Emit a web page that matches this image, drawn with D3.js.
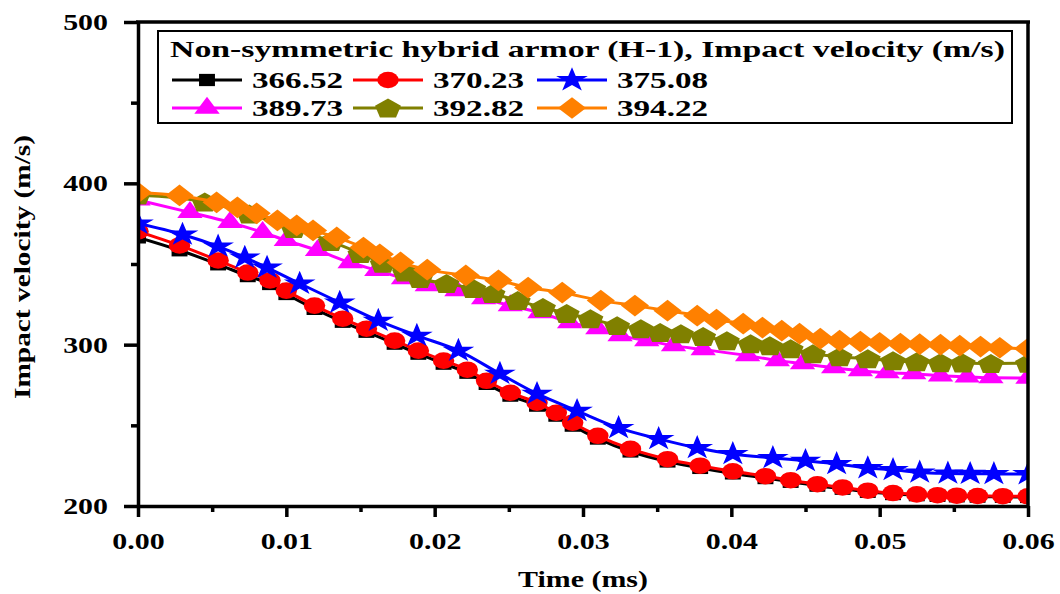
<!DOCTYPE html>
<html>
<head>
<meta charset="utf-8">
<title>Impact velocity vs time</title>
<script src="https://cdn.jsdelivr.net/npm/d3@7"></script>
<style>
  body { margin: 0; background: #fff; }
  text { font-family: "Liberation Serif", "Times New Roman", serif; font-weight: bold; fill: #000; }
  .axis path, .axis line { stroke: #000; stroke-width: 3.5; }
</style>
</head>
<body>
<script>
// data (time in ms, velocity in m/s)
var labels = ['366.52', '370.23', '375.08', '389.73', '392.82', '394.22'];
var legendTitle = 'Non-symmetric hybrid armor (H-1), Impact velocity (m/s)';
var xTicks = [0, 0.01, 0.02, 0.03, 0.04, 0.05, 0.06];
var xMinor = [0.005, 0.015, 0.025, 0.035, 0.045, 0.055];
var yTicks = [200, 300, 400, 500];
var yMinor = [250, 350, 450];

var t36652 = [0, 0.0028, 0.0054, 0.0074, 0.0089, 0.0100, 0.0119, 0.0138, 0.0154, 0.0173, 0.0189, 0.0206, 0.0222, 0.0235, 0.0251, 0.0269, 0.0282, 0.0293, 0.0310, 0.0332, 0.0357, 0.0379, 0.0401, 0.0423, 0.0440, 0.0458, 0.0475, 0.0492, 0.0509, 0.0525, 0.0539, 0.0552, 0.0566, 0.0583, 0.0600];
var v36652 = [366.5, 358.5, 349.8, 342.5, 337.6, 331.4, 322.2, 314.2, 308.0, 300.6, 294.4, 288.2, 282.6, 275.7, 268.4, 262.2, 256.0, 249.8, 241.8, 233.8, 227.6, 223.6, 220.2, 217.3, 215.0, 212.6, 210.7, 208.8, 207.4, 206.7, 206.3, 206.0, 205.8, 205.7, 205.6];

var t37023 = [0, 0.0028, 0.0054, 0.0074, 0.0089, 0.0100, 0.0119, 0.0138, 0.0154, 0.0173, 0.0189, 0.0206, 0.0222, 0.0235, 0.0251, 0.0269, 0.0282, 0.0293, 0.0310, 0.0332, 0.0357, 0.0379, 0.0401, 0.0423, 0.0440, 0.0458, 0.0475, 0.0492, 0.0509, 0.0525, 0.0539, 0.0552, 0.0566, 0.0583, 0.0600];
var v37023 = [370.2, 361.5, 352.2, 344.7, 339.8, 333.5, 324.2, 316.1, 309.9, 302.5, 296.3, 290.1, 284.5, 277.6, 270.2, 264.0, 257.8, 251.6, 243.5, 235.4, 229.0, 225.0, 221.5, 218.5, 216.0, 213.5, 211.5, 209.5, 208.0, 207.2, 206.7, 206.4, 206.2, 206.1, 206.0];

var t37508 = [0, 0.0030, 0.0054, 0.0072, 0.0087, 0.0109, 0.0136, 0.0162, 0.0188, 0.0216, 0.0244, 0.0269, 0.0296, 0.0324, 0.0351, 0.0377, 0.0401, 0.0428, 0.0450, 0.0471, 0.0492, 0.0509, 0.0527, 0.0546, 0.0561, 0.0577, 0.0600];
var v37508 = [375.1, 368.3, 360.9, 354.0, 347.8, 337.9, 326.1, 314.9, 305.6, 296.3, 282.0, 269.6, 259.0, 248.4, 241.6, 236.0, 232.3, 229.8, 228.0, 226.1, 223.5, 222.4, 220.8, 220.2, 220.0, 219.9, 219.8];

var t38973 = [0, 0.0035, 0.0062, 0.0084, 0.0100, 0.0121, 0.0143, 0.0161, 0.0179, 0.0195, 0.0215, 0.0233, 0.0251, 0.0271, 0.0291, 0.0310, 0.0325, 0.0343, 0.0361, 0.0381, 0.0411, 0.0431, 0.0448, 0.0469, 0.0487, 0.0505, 0.0523, 0.0541, 0.0559, 0.0575, 0.0600];
var v38973 = [389.7, 382.0, 375.8, 369.6, 364.6, 358.4, 350.9, 346.0, 341.0, 336.6, 333.5, 328.6, 324.2, 319.9, 313.7, 309.9, 305.6, 302.5, 299.4, 297.0, 293.2, 290.1, 288.2, 285.7, 283.9, 282.6, 282.0, 280.7, 280.1, 279.5, 279.3];

var t39282 = [0, 0.0045, 0.0075, 0.0105, 0.0130, 0.0150, 0.0165, 0.0180, 0.0190, 0.0208, 0.0226, 0.0239, 0.0256, 0.0273, 0.0289, 0.0305, 0.0323, 0.0339, 0.0352, 0.0366, 0.0381, 0.0397, 0.0413, 0.0426, 0.0440, 0.0455, 0.0473, 0.0492, 0.0509, 0.0525, 0.0541, 0.0556, 0.0575, 0.0600];
var v39282 = [392.8, 388.5, 381.0, 372.0, 364.0, 356.5, 350.5, 345.0, 341.0, 337.9, 334.8, 331.7, 327.3, 323.0, 319.3, 316.1, 311.8, 309.9, 307.5, 306.8, 305.0, 302.5, 300.6, 299.4, 297.5, 294.4, 292.5, 291.3, 290.1, 289.4, 288.8, 288.6, 288.4, 288.5];

var t39422 = [0, 0.0028, 0.0053, 0.0067, 0.0080, 0.0094, 0.0107, 0.0118, 0.0134, 0.0152, 0.0163, 0.0177, 0.0195, 0.0221, 0.0243, 0.0263, 0.0286, 0.0312, 0.0335, 0.0357, 0.0377, 0.0390, 0.0408, 0.0421, 0.0434, 0.0446, 0.0460, 0.0473, 0.0487, 0.0500, 0.0514, 0.0527, 0.0541, 0.0554, 0.0568, 0.0581, 0.0600];
var v39422 = [394.2, 392.5, 388.2, 385.1, 381.4, 377.0, 373.9, 370.8, 366.5, 360.2, 356.0, 351.0, 346.5, 342.9, 339.8, 335.4, 332.3, 327.3, 324.2, 321.1, 318.0, 315.5, 313.0, 310.6, 308.7, 306.8, 303.7, 302.5, 301.9, 301.2, 300.6, 300.3, 300.0, 299.4, 298.8, 298.1, 297.5];

var colors = ['#000000', '#ff0000', '#0000ff', '#ff00ff', '#808000', '#ff8000'];
var shapes = ['square', 'circle', 'star', 'triangle', 'pentagon', 'diamond'];

var series = [
  { name: labels[0], t: t36652, v: v36652 },
  { name: labels[1], t: t37023, v: v37023 },
  { name: labels[2], t: t37508, v: v37508 },
  { name: labels[3], t: t38973, v: v38973 },
  { name: labels[4], t: t39282, v: v39282 },
  { name: labels[5], t: t39422, v: v39422 }
];

var width = 1060, height = 594;
var x = d3.scaleLinear().domain([0, 0.06]).range([138, 1028]);
var y = d3.scaleLinear().domain([200, 500]).range([506, 22]);
var sx = 1.3; // the figure is stretched horizontally

var svg = d3.select('body').append('svg')
  .attr('width', width)
  .attr('height', height);

function stretch(sel, k) {
  sel.each(function() {
    var w = this.getComputedTextLength();
    d3.select(this).attr('textLength', w * k).attr('lengthAdjust', 'spacingAndGlyphs');
  });
}

function pentagon(r) {
  var pts = d3.range(5).map(function(i) {
    var a = -Math.PI / 2 + i * 2 * Math.PI / 5;
    return [r * Math.cos(a), r * Math.sin(a) + 1];
  });
  return d3.line()(pts) + 'Z';
}

function markerPath(kind) {
  if (kind === 'square') return d3.symbol(d3.symbolSquare, 150)();
  if (kind === 'circle') return d3.symbol(d3.symbolCircle, 215)();
  if (kind === 'star') return d3.symbol(d3.symbolStar, 185)();
  if (kind === 'triangle') return d3.symbol(d3.symbolTriangle, 165)();
  if (kind === 'pentagon') return pentagon(10.5);
  return d3.symbol(d3.symbolSquare, 235)(); // diamond, rotated below
}
function markerTransform(kind, px, py) {
  var tr = 'translate(' + px + ',' + py + ') scale(' + sx + ',1)';
  if (kind === 'diamond') tr += ' rotate(45)';
  return tr;
}

// clip to plot area
svg.append('clipPath').attr('id', 'plot')
  .append('rect')
  .attr('x', x(0)).attr('y', y(500))
  .attr('width', x(0.06) - x(0)).attr('height', y(200) - y(500));

var line = d3.line()
  .x(function(d) { return x(d[0]); })
  .y(function(d) { return y(d[1]); })
  .curve(d3.curveMonotoneX);

var plot = svg.append('g').attr('clip-path', 'url(#plot)');

series.forEach(function(s, i) {
  var pts = s.t.map(function(t, j) { return [t, s.v[j]]; });
  var g = plot.append('g').attr('class', 'series');
  g.append('path')
    .datum(pts)
    .attr('d', line)
    .attr('fill', 'none')
    .attr('stroke', colors[i])
    .attr('stroke-width', 3);
  g.selectAll('.mk')
    .data(pts)
    .enter().append('path')
    .attr('class', 'mk')
    .attr('d', markerPath(shapes[i]))
    .attr('transform', function(d) { return markerTransform(shapes[i], x(d[0]), y(d[1])); })
    .attr('fill', colors[i]);
});

// axes
var xAxis = svg.append('g').attr('class', 'axis')
  .attr('transform', 'translate(0,' + y(200) + ')')
  .call(d3.axisBottom(x).tickValues(xTicks).tickSize(11).tickSizeOuter(0).tickPadding(16).tickFormat(d3.format('.2f')));
svg.append('g').attr('class', 'axis')
  .attr('transform', 'translate(0,' + y(200) + ')')
  .call(d3.axisBottom(x).tickValues(xMinor).tickSize(6).tickSizeOuter(0).tickFormat(''))
  .select('.domain').remove();

var yAxis = svg.append('g').attr('class', 'axis')
  .attr('transform', 'translate(' + x(0) + ',0)')
  .call(d3.axisLeft(y).tickValues(yTicks).tickSize(14).tickSizeOuter(0).tickPadding(16).tickFormat(d3.format('d')));
svg.append('g').attr('class', 'axis')
  .attr('transform', 'translate(' + x(0) + ',0)')
  .call(d3.axisLeft(y).tickValues(yMinor).tickSize(7).tickSizeOuter(0).tickFormat(''))
  .select('.domain').remove();

svg.selectAll('.axis text').style('font-size', '23px').style('font-family', '"Liberation Serif", serif').style('font-weight', 'bold');
stretch(xAxis.selectAll('text'), sx);
stretch(yAxis.selectAll('text'), sx);

// top and right frame
svg.append('line').attr('x1', x(0) - 2).attr('x2', x(0.06) + 2).attr('y1', y(500)).attr('y2', y(500))
  .attr('stroke', '#000').attr('stroke-width', 3.5);
svg.append('line').attr('x1', x(0.06)).attr('x2', x(0.06)).attr('y1', y(500)).attr('y2', y(200))
  .attr('stroke', '#000').attr('stroke-width', 3.5);

// axis titles
svg.append('text')
  .attr('x', 583).attr('y', 587)
  .attr('text-anchor', 'middle')
  .style('font-size', '23px')
  .text('Time (ms)')
  .call(stretch, sx);

svg.append('text')
  .attr('transform', 'translate(30,267) rotate(-90)')
  .attr('text-anchor', 'middle')
  .style('font-size', '23px')
  .attr('textLength', 264).attr('lengthAdjust', 'spacingAndGlyphs')
  .text('Impact velocity (m/s)');

// legend
var legend = svg.append('g');
legend.append('rect')
  .attr('x', 158).attr('y', 31).attr('width', 854).attr('height', 92)
  .attr('fill', '#fff').attr('stroke', '#000').attr('stroke-width', 2);
legend.append('text')
  .attr('x', 170).attr('y', 57)
  .style('font-size', '24px')
  .attr('textLength', 835).attr('lengthAdjust', 'spacingAndGlyphs')
  .text(legendTitle);

var colX = [172, 353, 537];
var rowY = [80, 108];
series.forEach(function(s, i) {
  var cx = colX[i % 3], cy = rowY[Math.floor(i / 3)];
  var g = legend.append('g');
  g.append('line')
    .attr('x1', cx).attr('x2', cx + 70).attr('y1', cy).attr('y2', cy)
    .attr('stroke', colors[i]).attr('stroke-width', 3);
  g.append('path')
    .attr('d', markerPath(shapes[i]))
    .attr('transform', markerTransform(shapes[i], cx + 35, cy))
    .attr('fill', colors[i]);
  g.append('text')
    .attr('x', cx + 80).attr('y', cy + 8)
    .style('font-size', '24px')
    .attr('textLength', 91).attr('lengthAdjust', 'spacingAndGlyphs')
    .text(s.name);
});
</script>
</body>
</html>
